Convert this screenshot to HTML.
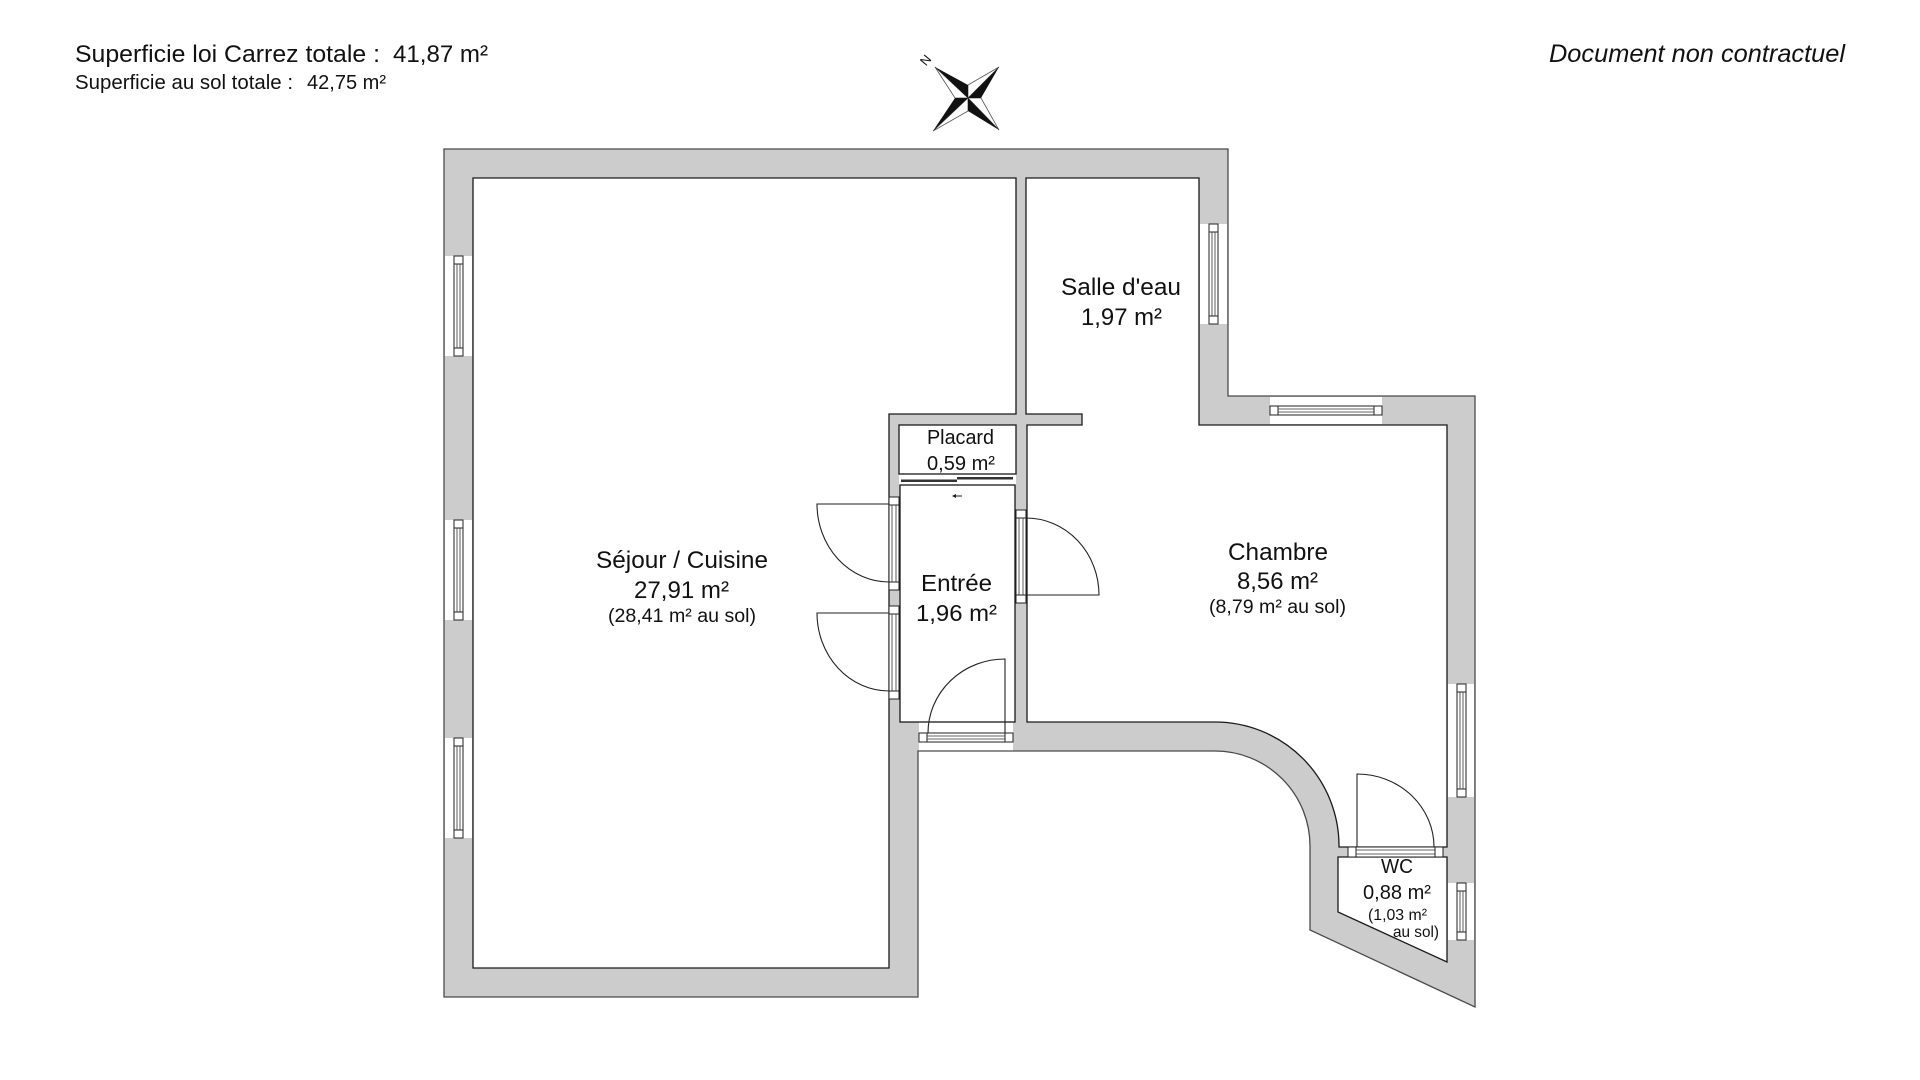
<!DOCTYPE html>
<html>
<head>
<meta charset="utf-8">
<style>
html,body{margin:0;padding:0;background:#fff;}
body{width:1920px;height:1080px;overflow:hidden;}
svg{display:block;}
text{font-family:"Liberation Sans", sans-serif;fill:#111;}
</style>
</head>
<body>
<svg width="1920" height="1080" viewBox="0 0 1920 1080" xmlns="http://www.w3.org/2000/svg">
  <!-- Header texts -->
  <text x="75" y="62" font-size="24.5" textLength="305" lengthAdjust="spacingAndGlyphs">Superficie loi Carrez totale :</text>
  <text x="393" y="62" font-size="24.5" textLength="95" lengthAdjust="spacingAndGlyphs">41,87 m²</text>
  <text x="75" y="89" font-size="20" textLength="218" lengthAdjust="spacingAndGlyphs">Superficie au sol totale :</text>
  <text x="307" y="89" font-size="20" textLength="79" lengthAdjust="spacingAndGlyphs">42,75 m²</text>
  <text x="1549" y="62" font-size="25" font-style="italic" textLength="296" lengthAdjust="spacingAndGlyphs">Document non contractuel</text>

  <!-- Compass -->
  <g stroke-linejoin="miter">
    <polygon points="935,67 955,98 968,98" fill="#fff" stroke="#555" stroke-width="0.8"/>
    <polygon points="999,67 968,85 968,98" fill="#fff" stroke="#555" stroke-width="0.8"/>
    <polygon points="999,130 981,98 968,98" fill="#fff" stroke="#555" stroke-width="0.8"/>
    <polygon points="933,131 968,111 968,98" fill="#fff" stroke="#555" stroke-width="0.8"/>
    <polygon points="935,67 968,85 968,98" fill="#111"/>
    <polygon points="999,67 981,98 968,98" fill="#111"/>
    <polygon points="999,130 968,111 968,98" fill="#111"/>
    <polygon points="933,131 955,98 968,98" fill="#111"/>
  </g>
  <text x="0" y="0" font-size="13" text-anchor="middle" transform="translate(929,63) rotate(-50)">N</text>

  <!-- Wall footprint (grey) -->
  <path d="M444,149 H1228 V396 H1475 V1007 L1310,930 V846 A95,95 0 0 0 1215,751 H918 V997 H444 Z" fill="#cccccc"/>

  <!-- Rooms (white) -->
  <path d="M473,178 H1016 V414 H889 V968 H473 Z" fill="#fff"/>
  <path d="M1026,178 H1199 V425 H1447 V847 H1339 V846 A124,124 0 0 0 1215,722 H1027 V425 H1082 V414 H1026 Z" fill="#fff"/>
  <rect x="899" y="425" width="117" height="60" fill="#fff"/>
  <rect x="900" y="485" width="115" height="237" fill="#fff"/>
  <polygon points="1338,857 1447,857 1447,962 1338,912" fill="#fff"/>

  <!-- Openings (white) -->
  <g fill="#fff">
    <rect x="445" y="256" width="27" height="100"/>
    <rect x="445" y="520" width="27" height="100"/>
    <rect x="445" y="738" width="27" height="100"/>
    <rect x="1200" y="224" width="27" height="100"/>
    <rect x="1270" y="397" width="112" height="27"/>
    <rect x="1448" y="684" width="26" height="113"/>
    <rect x="1448" y="883" width="26" height="57"/>
    <rect x="889" y="497" width="11" height="93"/>
    <rect x="889" y="606" width="11" height="93"/>
    <rect x="1015" y="510" width="12" height="93"/>
    <rect x="919" y="722" width="94" height="29"/>
    <rect x="1348" y="846" width="95" height="11"/>
  </g>

  <!-- Outlines -->
  <path d="M444,149 H1228 V396 H1475 V1007 L1310,930 V846 A95,95 0 0 0 1215,751 H918 V997 H444 Z" fill="none" stroke="#4a4a4a" stroke-width="1.3"/>
  <g fill="none" stroke="#1a1a1a" stroke-width="1.3">
    <path d="M473,178 H1016 V414 H889 V968 H473 Z"/>
    <path d="M1026,178 H1199 V425 H1447 V847 H1339 V846 A124,124 0 0 0 1215,722 H1027 V425 H1082 V414 H1026 Z"/>
    <rect x="899" y="425" width="117" height="49"/>
    <rect x="900" y="485" width="115" height="237"/>
    <polygon points="1338,857 1447,857 1447,962 1338,912"/>
  </g>

  <!-- Window frames -->
  <g fill="#fff" stroke="#222" stroke-width="1">
    <rect x="454" y="256" width="9" height="100"/><rect x="454" y="256" width="9" height="8"/><rect x="454" y="348" width="9" height="8"/>
    <rect x="454" y="520" width="9" height="100"/><rect x="454" y="520" width="9" height="8"/><rect x="454" y="612" width="9" height="8"/>
    <rect x="454" y="738" width="9" height="100"/><rect x="454" y="738" width="9" height="8"/><rect x="454" y="830" width="9" height="8"/>
    <rect x="1209" y="224" width="9" height="100"/><rect x="1209" y="224" width="9" height="8"/><rect x="1209" y="316" width="9" height="8"/>
    <rect x="1270" y="406" width="112" height="9"/><rect x="1270" y="406" width="8" height="9"/><rect x="1374" y="406" width="8" height="9"/>
    <rect x="1457" y="684" width="9" height="113"/><rect x="1457" y="684" width="9" height="8"/><rect x="1457" y="789" width="9" height="8"/>
    <rect x="1457" y="883" width="9" height="57"/><rect x="1457" y="883" width="9" height="8"/><rect x="1457" y="932" width="9" height="8"/>
  </g>
  <g stroke="#333" stroke-width="0.8">
    <line x1="457" y1="264" x2="457" y2="348"/><line x1="460" y1="264" x2="460" y2="348"/>
    <line x1="457" y1="528" x2="457" y2="612"/><line x1="460" y1="528" x2="460" y2="612"/>
    <line x1="457" y1="746" x2="457" y2="830"/><line x1="460" y1="746" x2="460" y2="830"/>
    <line x1="1212" y1="232" x2="1212" y2="316"/><line x1="1215" y1="232" x2="1215" y2="316"/>
    <line x1="1278" y1="409" x2="1374" y2="409"/><line x1="1278" y1="412" x2="1374" y2="412"/>
    <line x1="1460" y1="692" x2="1460" y2="789"/><line x1="1463" y1="692" x2="1463" y2="789"/>
    <line x1="1460" y1="891" x2="1460" y2="932"/><line x1="1463" y1="891" x2="1463" y2="932"/>
  </g>

  <!-- Door frames -->
  <g fill="#fff" stroke="#222" stroke-width="1">
    <rect x="889" y="497" width="10" height="93"/><rect x="889" y="497" width="10" height="8"/><rect x="889" y="582" width="10" height="8"/>
    <rect x="889" y="606" width="10" height="93"/><rect x="889" y="606" width="10" height="8"/><rect x="889" y="691" width="10" height="8"/>
    <rect x="1016" y="510" width="10" height="93"/><rect x="1016" y="510" width="10" height="8"/><rect x="1016" y="595" width="10" height="8"/>
    <rect x="919" y="733" width="94" height="9"/><rect x="919" y="733" width="8" height="9"/><rect x="1005" y="733" width="8" height="9"/>
    <rect x="1348" y="847" width="95" height="10"/><rect x="1348" y="847" width="8" height="10"/><rect x="1435" y="847" width="8" height="10"/>
  </g>
  <g stroke="#333" stroke-width="0.8">
    <line x1="892" y1="505" x2="892" y2="582"/><line x1="896" y1="505" x2="896" y2="582"/>
    <line x1="892" y1="614" x2="892" y2="691"/><line x1="896" y1="614" x2="896" y2="691"/>
    <line x1="1019" y1="518" x2="1019" y2="595"/><line x1="1023" y1="518" x2="1023" y2="595"/>
    <line x1="927" y1="736" x2="1005" y2="736"/><line x1="927" y1="739" x2="1005" y2="739"/>
    <line x1="1356" y1="850" x2="1435" y2="850"/><line x1="1356" y1="854" x2="1435" y2="854"/>
  </g>

  <!-- Door leaves and swings -->
  <g fill="none" stroke="#222" stroke-width="1.1">
    <path d="M889,504 H817 A72,78 0 0 0 889,582"/>
    <path d="M889,613 H817 A72,78 0 0 0 889,691"/>
    <path d="M1026,595 H1099 A73,77 0 0 0 1026,518"/>
    <path d="M1005,733 V659 A77,74 0 0 0 928,733"/>
    <path d="M1357,847 V774 A77,73 0 0 1 1434,847"/>
  </g>

  <!-- Placard sliding doors -->
  <rect x="901" y="479.5" width="56" height="2.5" fill="#333"/>
  <rect x="957" y="477" width="56" height="2.5" fill="#333"/>
  <!-- small arrow in entrée -->
  <path d="M953,496 H962" stroke="#222" stroke-width="1"/>
  <path d="M952,496 L956,494 L956,498 Z" fill="#222"/>

  <!-- Room labels -->
  <text x="596" y="568" font-size="24" textLength="172" lengthAdjust="spacingAndGlyphs">Séjour / Cuisine</text>
  <text x="634" y="598" font-size="24" textLength="95" lengthAdjust="spacingAndGlyphs">27,91 m²</text>
  <text x="608" y="622" font-size="19" textLength="148" lengthAdjust="spacingAndGlyphs">(28,41 m² au sol)</text>

  <text x="1061" y="295" font-size="24" textLength="120" lengthAdjust="spacingAndGlyphs">Salle d'eau</text>
  <text x="1081" y="325" font-size="24" textLength="81" lengthAdjust="spacingAndGlyphs">1,97 m²</text>

  <text x="1228" y="560" font-size="24" textLength="100" lengthAdjust="spacingAndGlyphs">Chambre</text>
  <text x="1237" y="589" font-size="24" textLength="81" lengthAdjust="spacingAndGlyphs">8,56 m²</text>
  <text x="1209" y="613" font-size="19" textLength="137" lengthAdjust="spacingAndGlyphs">(8,79 m² au sol)</text>

  <text x="921" y="591" font-size="23" textLength="71" lengthAdjust="spacingAndGlyphs">Entrée</text>
  <text x="916" y="621" font-size="23" textLength="81" lengthAdjust="spacingAndGlyphs">1,96 m²</text>

  <text x="927" y="444" font-size="20" textLength="67" lengthAdjust="spacingAndGlyphs">Placard</text>
  <text x="927" y="470" font-size="20" textLength="68" lengthAdjust="spacingAndGlyphs">0,59 m²</text>

  <text x="1381" y="873" font-size="20" textLength="32" lengthAdjust="spacingAndGlyphs">WC</text>
  <text x="1363" y="899" font-size="20" textLength="68" lengthAdjust="spacingAndGlyphs">0,88 m²</text>
  <text x="1368" y="920" font-size="16" textLength="59" lengthAdjust="spacingAndGlyphs">(1,03 m²</text>
  <text x="1393" y="937" font-size="16" textLength="46" lengthAdjust="spacingAndGlyphs">au sol)</text>
</svg>
</body>
</html>
